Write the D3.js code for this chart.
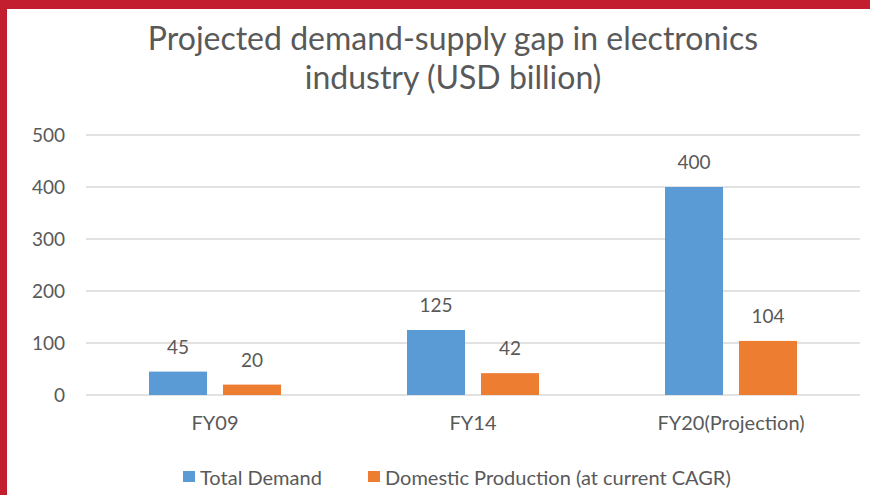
<!DOCTYPE html>
<html>
<head>
<meta charset="utf-8">
<script src="https://cdn.jsdelivr.net/npm/d3@7"></script>
<style>
  body { margin: 0; background: #fff; }
  text { font-family: Lato, "Open Sans", sans-serif; fill: #595959; }
</style>
</head>
<body>
<div id="chart"></div>
<script>
var categories = ["FY09", "FY14", "FY20(Projection)"];
var seriesNames = ["Total Demand", "Domestic Production (at current CAGR)"];
var totalDemand = [45, 125, 400];
var domesticProduction = [20, 42, 104];
var yTicks = [0, 100, 200, 300, 400, 500];
var colors = ["#5B9BD5", "#ED7D31"];

var width = 870, height = 495;
var margin = { top: 135, right: 10, bottom: 100, left: 86 };

var svg = d3.select("#chart").append("svg")
  .attr("width", width)
  .attr("height", height);

// red frame (top and left)
svg.append("rect").attr("x", 0).attr("y", 0).attr("width", width).attr("height", 9).attr("fill", "#C21E2F");
svg.append("rect").attr("x", 0).attr("y", 0).attr("width", 7).attr("height", height).attr("fill", "#C21E2F");

// title
var title = svg.append("text")
  .attr("text-anchor", "middle")
  .style("font-size", "32px");
title.append("tspan").attr("x", 453).attr("y", 50).text("Projected demand-supply gap in electronics");
title.append("tspan").attr("x", 453).attr("y", 89).text("industry (USD billion)");

var x0 = d3.scaleBand()
  .domain(categories)
  .range([margin.left, width - margin.right]);

var x1 = d3.scaleBand()
  .domain(seriesNames)
  .range([x0.bandwidth() / 2 - 66, x0.bandwidth() / 2 + 66])
  .paddingInner(0.216);

var y = d3.scaleLinear()
  .domain([0, 500])
  .range([395, 135]);

// gridlines
svg.append("g").selectAll("line")
  .data(yTicks)
  .enter().append("line")
  .attr("x1", margin.left)
  .attr("x2", width - margin.right)
  .attr("y1", function(d) { return y(d); })
  .attr("y2", function(d) { return y(d); })
  .attr("stroke", "#D9D9D9")
  .attr("stroke-width", 1.3);

// y axis labels
var yAxis = d3.axisLeft(y).tickValues(yTicks).tickSize(0).tickPadding(0);
var gy = svg.append("g")
  .attr("transform", "translate(65,0)")
  .call(yAxis);
gy.select(".domain").remove();
gy.selectAll("text")
  .style("font-size", "19px")
  .style("font-family", "Lato, sans-serif")
  .attr("fill", "#595959");

// x axis labels
var xAxis = d3.axisBottom(x0).tickSize(0).tickPadding(0);
var gx = svg.append("g")
  .attr("transform", "translate(0,416)")
  .call(xAxis);
gx.select(".domain").remove();
gx.selectAll("text")
  .style("font-size", "20px")
  .style("font-family", "Lato, sans-serif")
  .attr("fill", "#595959");

var rows = categories.map(function(c, i) {
  return { cat: c, values: [totalDemand[i], domesticProduction[i]] };
});

var groups = svg.append("g").selectAll("g")
  .data(rows)
  .enter().append("g")
  .attr("transform", function(d) { return "translate(" + x0(d.cat) + ",0)"; });

groups.selectAll("rect")
  .data(function(d) { return d.values.map(function(v, j) { return { s: seriesNames[j], v: v, j: j }; }); })
  .enter().append("rect")
  .attr("x", function(d) { return x1(d.s); })
  .attr("y", function(d) { return y(d.v); })
  .attr("width", x1.bandwidth())
  .attr("height", function(d) { return y(0) - y(d.v); })
  .attr("fill", function(d) { return colors[d.j]; });

groups.selectAll("text.val")
  .data(function(d) { return d.values.map(function(v, j) { return { s: seriesNames[j], v: v }; }); })
  .enter().append("text")
  .attr("class", "val")
  .attr("x", function(d) { return x1(d.s) + x1.bandwidth() / 2; })
  .attr("y", function(d) { return y(d.v) - 18; })
  .attr("text-anchor", "middle")
  .style("font-size", "19px")
  .text(function(d) { return d.v; });

// legend
var legendX = [183, 368];
var legend = svg.append("g").selectAll("g")
  .data(seriesNames)
  .enter().append("g")
  .attr("transform", function(d, i) { return "translate(" + legendX[i] + ",471)"; });
legend.append("rect")
  .attr("width", 12).attr("height", 11)
  .attr("fill", function(d, i) { return colors[i]; });
legend.append("text")
  .attr("x", 17).attr("y", 14)
  .style("font-size", "20px")
  .text(function(d) { return d; });
</script>
</body>
</html>
